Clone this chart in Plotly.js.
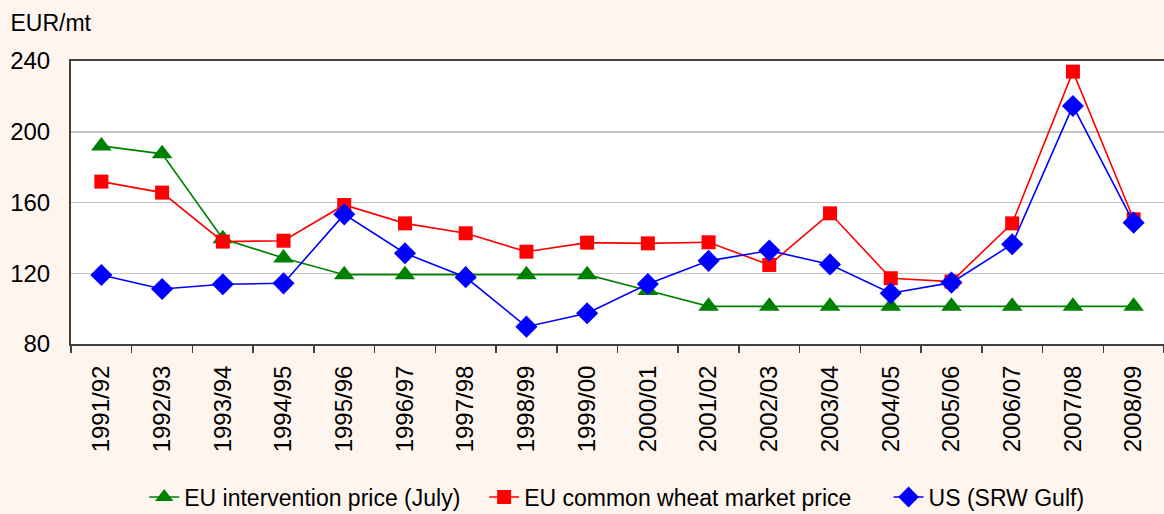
<!DOCTYPE html>
<html>
<head>
<meta charset="utf-8">
<script src="https://cdn.plot.ly/plotly-3.0.1.min.js"></script>
<style>
  html, body { margin: 0; padding: 0; background: #fef5ef; }
  #plot { width: 1164px; height: 514px; }
</style>
</head>
<body>
<div id="plot"></div>
<script>
// marketing years on the category axis
const years = [
  "1991/92", "1992/93", "1993/94", "1994/95", "1995/96", "1996/97",
  "1997/98", "1998/99", "1999/00", "2000/01", "2001/02", "2002/03",
  "2003/04", "2004/05", "2005/06", "2006/07", "2007/08", "2008/09"
];

// EUR/mt
const interventionPrice = [
  192, 187.5, 139.5, 128.6, 119.2, 119.2, 119.2, 119.2, 119.2,
  110.3, 101.3, 101.3, 101.3, 101.3, 101.3, 101.3, 101.3, 101.3
];
const marketPrice = [
  171.8, 165.6, 137.9, 138.4, 158.6, 148.2, 142.6, 132.2, 137.3,
  136.9, 137.5, 124.7, 153.9, 117.2, 115.3, 148.2, 234, 150.5
];
const usSrwGulf = [
  119, 111.1, 113.8, 114.3, 153.3, 131.3, 117.7, 89.8, 97.4,
  113.9, 127, 132.8, 125, 108.7, 114.7, 136.4, 214.6, 148.6
];

const FONT = "'Liberation Sans', Arial, sans-serif";

const traces = [
  {
    name: "EU intervention price (July)",
    legend: "legend",
    x: years, y: interventionPrice,
    mode: "lines+markers",
    line: { color: "#008000", width: 1.6 },
    marker: { symbol: "triangle-up", size: 18, color: "#008000" }
  },
  {
    name: "EU common wheat market price",
    legend: "legend2",
    x: years, y: marketPrice,
    mode: "lines+markers",
    line: { color: "#ff0000", width: 1.6 },
    marker: { symbol: "square", size: 14, color: "#ff0000" }
  },
  {
    name: "US (SRW Gulf)",
    legend: "legend3",
    x: years, y: usSrwGulf,
    mode: "lines+markers",
    line: { color: "#0000ff", width: 1.6 },
    marker: { symbol: "diamond", size: 17, color: "#0000ff" }
  }
];

// one legend box per series so the entries sit where the original puts them
function legendAt(x) {
  return {
    orientation: "h",
    xref: "paper", x: x, xanchor: "left",
    yref: "container", y: 0.033, yanchor: "middle",
    bgcolor: "rgba(0,0,0,0)",
    font: { family: FONT, size: 23, color: "#000000" },
    itemwidth: 30
  };
}

const layout = {
  width: 1164,
  height: 514,
  paper_bgcolor: "#fef5ef",
  plot_bgcolor: "#ffffff",
  font: { family: FONT, size: 23, color: "#000000" },
  margin: { l: 71, r: 0, t: 61, b: 170 },
  title: {
    text: "EUR/mt",
    font: { family: FONT, size: 23, color: "#000000" },
    xref: "container", x: 0.009, xanchor: "left",
    yref: "container", y: 0.955, yanchor: "middle"
  },
  xaxis: {
    type: "category",
    range: [-0.5, 17.5],
    tickangle: -90,
    tickson: "boundaries",
    ticks: "outside",
    ticklen: 7,
    tickwidth: 1.5,
    tickcolor: "#404040",
    showline: true,
    linecolor: "#404040",
    linewidth: 2,
    mirror: true,
    showgrid: false,
    ticklabelstandoff: 10,
    tickfont: { family: FONT, size: 24, color: "#000000" }
  },
  yaxis: {
    range: [80, 240],
    dtick: 40,
    tick0: 80,
    ticks: "",
    showline: true,
    linecolor: "#404040",
    linewidth: 2,
    showgrid: true,
    gridcolor: "#c4c4c4",
    gridwidth: 1.5,
    zeroline: false,
    ticklabelstandoff: 14,
    tickfont: { family: FONT, size: 24, color: "#000000" }
  },
  showlegend: true,
  legend: legendAt(0.067),
  legend2: legendAt(0.378),
  legend3: legendAt(0.748)
};

Plotly.newPlot("plot", traces, layout, { displayModeBar: false, staticPlot: true });
</script>
</body>
</html>
